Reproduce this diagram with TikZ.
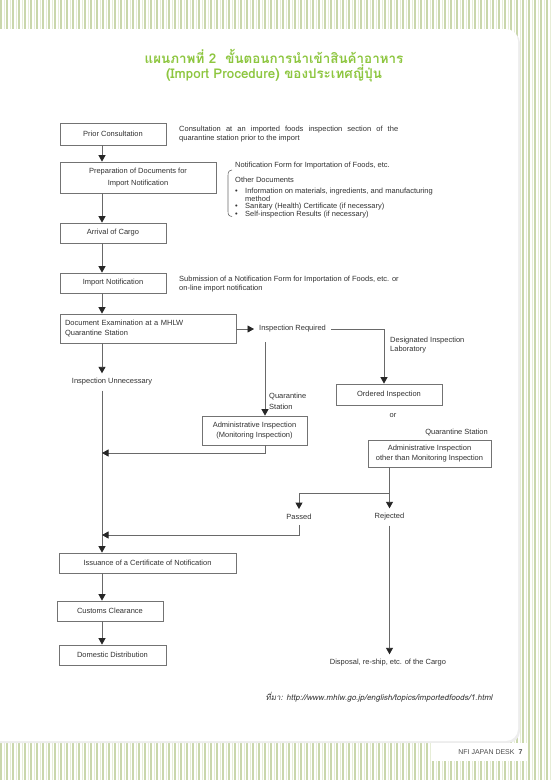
\documentclass[tikz,border=0pt]{standalone}
\usepackage{fontspec}
\setmainfont{Liberation Sans}
\newfontfamily\thaifont[Script=Thai]{Loma}
\newfontfamily\thaislant[Script=Thai,FakeSlant=0.2]{Loma}
\usetikzlibrary{arrows.meta}

\definecolor{titlegreen}{RGB}{141,198,63}
\definecolor{boxgray}{RGB}{115,115,115}
\definecolor{linegray}{RGB}{105,105,105}
\definecolor{txtgray}{RGB}{50,50,50}
\definecolor{stripeA}{RGB}{202,215,172}
\definecolor{stripeB}{RGB}{230,237,214}

\tikzset{
  stepbox/.style={draw=boxgray, line width=0.75pt, inner sep=2pt, align=center},
  lbl/.style={inner sep=5pt, align=left},
  conn/.style={draw=linegray, line width=0.9pt},
  flow/.style={conn, -{Triangle[width=7pt,length=6.5pt,color=black!85]}},
}

\begin{document}
\begin{tikzpicture}[x=1pt,y=-1pt,
  every node/.style={font=\fontsize{7.5}{10}\selectfont, text=txtgray}]
    % Page background
    \useasboundingbox (0,0) rectangle (550,780);
    \foreach \x in {1,7,...,549} {
        \draw[stripeA, line width=1.2pt] (\x,0) -- (\x,780);
        \draw[stripeB, line width=1pt] (\x+3,0) -- (\x+3,780);
    }
    \fill[black!7, rounded corners=12pt] (-20,31) rectangle (520,743);
    \fill[white, rounded corners=12pt] (-20,29) rectangle (518,741);
    \fill[white] (431,743) rectangle (527,761);
    \node[font=\fontsize{7}{8}\selectfont, text=black!70, anchor=east] (desk) at (526,752) {NFI JAPAN DESK\hspace{4pt}\textbf{7}};

    % Title
    \node[font=\thaifont\bfseries\fontsize{13.4}{13.5}\selectfont, text=titlegreen, align=center] (title) at (274,66)
        {แผนภาพที่ 2\ \ ขั้นตอนการนำเข้าสินค้าอาหาร\\(Import Procedure) ของประเทศญี่ปุ่น};

    % Main column of steps
    \coordinate (spine) at (102,0);
    \node[stepbox, minimum width=106pt, minimum height=22pt] (prior) at (113,134) {Prior Consultation};
    \node[stepbox, minimum width=156pt, minimum height=31pt, font=\fontsize{7.5}{12}\selectfont] (prep) at (138,177.5) {Preparation of Documents for\\Import Notification};
    \node[stepbox, minimum width=106pt, minimum height=20pt] (arrival) at (113,233) {Arrival of Cargo};
    \node[stepbox, minimum width=106pt, minimum height=20pt] (import) at (113,283) {Import Notification};
    \node[stepbox, text width=166pt, minimum height=29pt, inner sep=5pt, align=left] (docexam) at (148,328.5) {Document Examination at a MHLW\\Quarantine Station};
    \node[lbl] (insunn) at (112,382) {Inspection Unnecessary};
    \node[stepbox, minimum width=177pt, minimum height=20pt] (issuance) at (147.5,563) {Issuance of a Certificate of Notification};
    \node[stepbox, minimum width=106pt, minimum height=20pt] (customs) at (110,611) {Customs Clearance};
    \node[stepbox, minimum width=107pt, minimum height=20pt] (domestic) at (112.5,655) {Domestic Distribution};

    % Inspection branch
    \node[lbl, anchor=west] (insreq) at (254,329) {Inspection Required};
    \node[stepbox, minimum width=106pt, minimum height=21pt] (ordered) at (389,394.5) {Ordered Inspection};
    \node[stepbox, minimum width=105pt, minimum height=29pt] (adminmon) at (254.5,430.5) {Administrative Inspection\\(Monitoring Inspection)};
    \node[stepbox, minimum width=123pt, minimum height=27pt] (adminoth) at (429.5,453.5) {Administrative Inspection\\other than Monitoring Inspection};
    \node[lbl] (passed) at (299,517) {Passed};
    \node[lbl] (rejected) at (389.5,517) {Rejected};
    \node[lbl] (disposal) at (388,663) {Disposal, re-ship, etc. of the Cargo};

    % Side labels
    \node[lbl, anchor=west, font=\fontsize{7.5}{11}\selectfont] (qlbl) at (264,401.5) {Quarantine\\Station};
    \node[lbl, anchor=west, font=\fontsize{7.5}{9}\selectfont] (lablbl) at (385,345.5) {Designated Inspection\\Laboratory};
    \node[lbl] (orlbl) at (393,416) {or};
    \node[lbl, anchor=east] (qslbl) at (493,432) {Quarantine Station};

    % Notes
    \node[anchor=west, inner sep=0pt, align=left, font=\fontsize{7.5}{8.2}\selectfont] (priornote) at (179,134)
        {\makebox[219pt][s]{Consultation at an imported foods inspection section of the}\\quarantine station prior to the import};
    \node[anchor=west, inner sep=0pt, align=left, font=\fontsize{7.5}{9}\selectfont] (importnote) at (179,284.5)
        {Submission of a Notification Form for Importation of Foods, etc. or\\on-line import notification};
    \node[anchor=west, inner sep=0pt, align=left, font=\fontsize{7.5}{6.8}\selectfont] (docs) at (235,190)
        {Notification Form for Importation of Foods, etc.\\[7.2pt]
         Other Documents\\[3.5pt]
         \makebox[10pt][l]{\textbullet}Information on materials, ingredients, and manufacturing\\
         \hspace*{10pt}method\\
         \makebox[10pt][l]{\textbullet}Sanitary (Health) Certificate (if necessary)\\
         \makebox[10pt][l]{\textbullet}Self-inspection Results (if necessary)};
    \draw[conn, line width=0.6pt] (232,170) .. controls (228.5,170.5) and (228,172.5) .. (228,176)
        -- (228,211) .. controls (228,214.5) and (228.5,216) .. (232,216.5);

    % Source
    \node[font=\thaislant\fontsize{8}{9}\selectfont, text=black!80, anchor=east] (src) at (496,697)
        {ที่มา: http://www.mhlw.go.jp/english/topics/importedfoods/1.html};

    % Connectors -- main column
    \draw[flow] (prior.south -| spine) -- (prep.north -| spine);
    \draw[flow] (prep.south -| spine) -- (arrival.north -| spine);
    \draw[flow] (arrival.south -| spine) -- (import.north -| spine);
    \draw[flow] (import.south -| spine) -- (docexam.north -| spine);
    \draw[flow] (docexam.south -| spine) -- (insunn.north -| spine);
    \draw[flow] (insunn.south -| spine) -- (issuance.north -| spine);
    \draw[flow] (issuance.south -| spine) -- (customs.north -| spine);
    \draw[flow] (customs.south -| spine) -- (domestic.north -| spine);

    % Connectors -- inspection
    \draw[flow] (docexam.east |- insreq.west) -- (insreq.west);
    \draw[flow] (insreq.east) -| ([xshift=-5pt]ordered.north);
    \coordinate (qtop) at (265,342);
    \draw[flow] (qtop) -- (qtop |- adminmon.north);
    \coordinate (join1) at (102,453);
    \draw[flow] (qtop |- adminmon.south) |- (join1);
    \coordinate (split) at (389.5,493);
    \draw[conn] (rejected |- adminoth.south) -- (split);
    \draw[flow] (split) -| (passed.north);
    \draw[flow] (split) -- (rejected.north);
    \coordinate (join2) at (102,535);
    \draw[flow] (passed.south) |- (join2);
    \draw[flow] (rejected.south) -- (rejected.south |- disposal.north);
\end{tikzpicture}
\end{document}
